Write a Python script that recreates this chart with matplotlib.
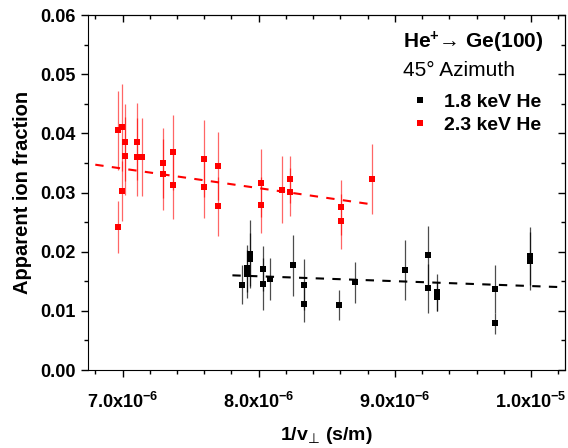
import matplotlib
matplotlib.use('agg')
import matplotlib.pyplot as plt
from matplotlib.ticker import FixedLocator, MultipleLocator, FuncFormatter, NullFormatter
from matplotlib.lines import Line2D

plt.rcParams['font.family'] = ['Liberation Sans', 'DejaVu Sans']
plt.rcParams['mathtext.fontset'] = 'custom'
plt.rcParams['mathtext.rm'] = 'Liberation Sans:bold'
plt.rcParams['mathtext.bf'] = 'Liberation Sans:bold'
plt.rcParams['mathtext.it'] = 'Liberation Sans:bold'
plt.rcParams['mathtext.sf'] = 'DejaVu Sans'
plt.rcParams['mathtext.default'] = 'bf'
plt.rcParams['mathtext.fallback'] = 'stixsans'

# 1.8 keV He (black)
x_18 = [7.880, 7.914, 7.914, 7.939, 7.939, 8.035, 8.035, 8.083, 8.255, 8.336, 8.336,
        8.590, 8.711, 9.071, 9.245, 9.245, 9.311, 9.311, 9.738, 9.738, 9.990, 9.990]
y_18 = [0.0144, 0.0172, 0.0162, 0.0196, 0.0187, 0.0171, 0.0145, 0.0154, 0.0177, 0.0144, 0.0112,
        0.0110, 0.0148, 0.0169, 0.0194, 0.0138, 0.0131, 0.0124, 0.0137, 0.0079, 0.0193, 0.0185]
err_18 = [0.0033, 0.0040, 0.0040, 0.0058, 0.0045, 0.0038, 0.0044, 0.0036, 0.0052, 0.0043, 0.0031,
          0.0025, 0.0034, 0.0050, 0.0050, 0.0041, 0.0031, 0.0025, 0.0041, 0.0018, 0.0049, 0.0049]

# 2.3 keV He (red)
x_23 = [6.965, 6.993, 7.015, 7.015, 6.993, 6.965, 7.103, 7.103, 7.142, 7.296, 7.296, 7.370, 7.370,
        7.596, 7.596, 7.699, 7.699, 8.020, 8.020, 8.171, 8.230, 8.230, 8.608, 8.608, 8.829]
y_23 = [0.0405, 0.0410, 0.0385, 0.0362, 0.0302, 0.0241, 0.0386, 0.0360, 0.0360, 0.0350, 0.0331,
        0.0368, 0.0312, 0.0357, 0.0309, 0.0345, 0.0277, 0.0316, 0.0279, 0.0305, 0.0322, 0.0301,
        0.0275, 0.0251, 0.0323]
err_23 = [0.0067, 0.0073, 0.0065, 0.0066, 0.0051, 0.0044, 0.0065, 0.0066, 0.0066, 0.0059, 0.0060,
          0.0063, 0.0057, 0.0065, 0.0052, 0.0058, 0.0050, 0.0057, 0.0048, 0.0056, 0.0039, 0.0041,
          0.0046, 0.0046, 0.0059]

# linear trend lines (end points)
fit_18_x = [7.807, 10.23]
fit_18_y = [0.0160, 0.0140]
fit_23_x = [6.80, 8.83]
fit_23_y = [0.0347, 0.0280]

major_x = [7.0e-6, 8.0e-6, 9.0e-6, 1.0e-5]

scale = 1e-6
x_18 = [v * scale for v in x_18]
x_23 = [v * scale for v in x_23]
fit_18_x = [v * scale for v in fit_18_x]
fit_23_x = [v * scale for v in fit_23_x]


def sci_fmt(v, pos):
    exp = int(f'{v:e}'.split('e')[1])
    mant = v / 10 ** exp
    return f'{mant:.1f}x10$^{{{exp}}}$'


fig = plt.figure(figsize=(5.68, 4.48), dpi=100)
ax = fig.add_axes([0.1558, 0.1741, 0.839, 0.7924])

ax.errorbar(x_23, y_23, yerr=err_23, fmt='s', color='red', ms=4.6, mew=0,
            ecolor=(1, 0, 0, 0.6), elinewidth=0.9, capsize=2.5, capthick=0.9, zorder=3)
ax.errorbar(x_18, y_18, yerr=err_18, fmt='s', color='black', ms=4.6, mew=0,
            ecolor=(0, 0, 0, 0.7), elinewidth=0.9, capsize=2.5, capthick=0.9, zorder=3)
ax.plot(fit_23_x, fit_23_y, color='red', lw=1.5, ls=(0, (4, 4)), zorder=4)
ax.plot(fit_18_x, fit_18_y, color='black', lw=1.5, ls=(0, (4, 4)), zorder=4)

ax.set_xlim(6.75e-6, 10.25e-6)
ax.set_ylim(0, 0.06)
ax.xaxis.set_major_locator(FixedLocator(major_x))
ax.xaxis.set_minor_locator(MultipleLocator(0.2e-6))
ax.xaxis.set_major_formatter(FuncFormatter(sci_fmt))
ax.yaxis.set_major_locator(MultipleLocator(0.01))
ax.yaxis.set_minor_locator(MultipleLocator(0.005))
ax.yaxis.set_major_formatter(FuncFormatter(lambda v, p: f'{v:.2f}'))

ax.tick_params(which='both', direction='out', width=1, labelsize=13)
ax.tick_params(which='major', length=5)
ax.tick_params(which='minor', length=3)
ax.tick_params(axis='x', pad=11)
ax.tick_params(axis='y', pad=4)
for lab in ax.get_xticklabels() + ax.get_yticklabels():
    lab.set_fontweight('bold')

top = ax.secondary_xaxis('top')
top.xaxis.set_major_locator(FixedLocator(major_x))
top.xaxis.set_minor_locator(MultipleLocator(0.2e-6))
top.xaxis.set_major_formatter(NullFormatter())
top.tick_params(which='both', direction='in', width=1)
top.tick_params(which='major', length=5)
top.tick_params(which='minor', length=3)
right = ax.secondary_yaxis('right')
right.yaxis.set_major_locator(MultipleLocator(0.01))
right.yaxis.set_minor_locator(MultipleLocator(0.005))
right.yaxis.set_major_formatter(NullFormatter())
right.tick_params(which='both', direction='in', width=1)
right.tick_params(which='major', length=5)
right.tick_params(which='minor', length=3)

ax.set_xlabel('1/v$_{\\mathsf{⊥}}$ (s/m)', fontsize=14, fontweight='bold', labelpad=9)
ax.set_ylabel('Apparent ion fraction', fontsize=14.5, fontweight='bold', labelpad=6)

ax.text(0.66, 0.924, 'He$^{+}$→ Ge(100)', transform=ax.transAxes,
        fontsize=15, fontweight='bold', va='center', ha='left')
ax.text(0.66, 0.845, '45° Azimuth', transform=ax.transAxes,
        fontsize=15, va='center', ha='left')
handles = [Line2D([], [], ls='none', marker='s', ms=5, mew=0, color='black'),
           Line2D([], [], ls='none', marker='s', ms=5, mew=0, color='red')]
ax.legend(handles, ['1.8 keV He', '2.3 keV He'], loc='upper left',
          bbox_to_anchor=(0.635, 0.828), frameon=False, handlelength=1.2,
          handletextpad=0.6, labelspacing=0.25, prop={'weight': 'bold', 'size': 14})

fig.savefig('out.png', dpi=100)
